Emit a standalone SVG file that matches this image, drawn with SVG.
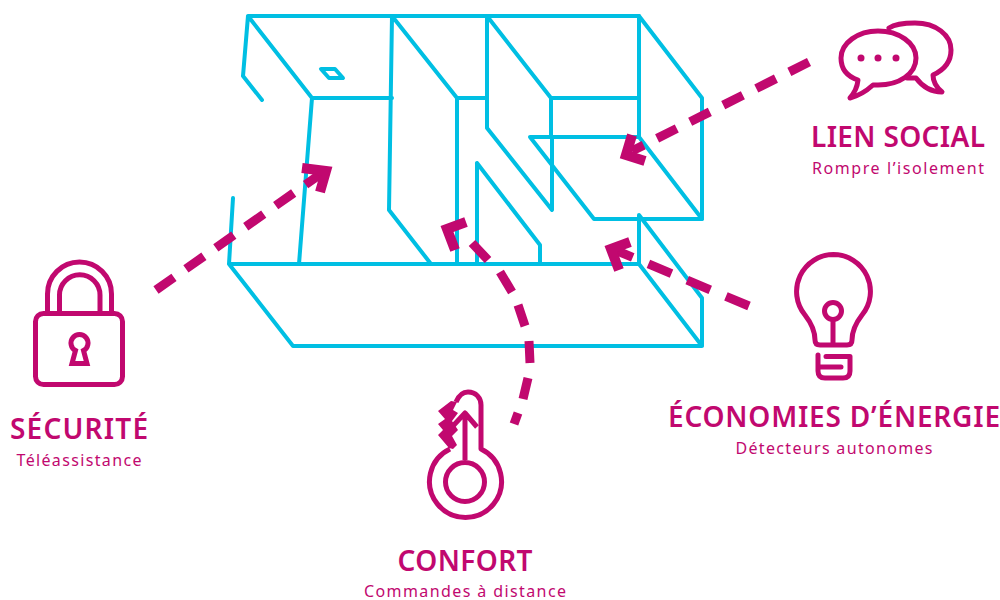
<svg xmlns="http://www.w3.org/2000/svg" width="1000" height="600" viewBox="0 0 1000 600">
<style>
.b{fill:none;stroke:#00bfe3;stroke-width:4;stroke-linecap:round;stroke-linejoin:round}
.d{fill:none;stroke:#c1086f;stroke-width:9}
.h{fill:none;stroke:#c1086f;stroke-width:10;stroke-linejoin:miter}
.i{fill:none;stroke:#c1086f;stroke-width:5;stroke-linecap:round;stroke-linejoin:round}
.t{font-family:"Noto Sans","Open Sans",sans-serif;font-weight:600;font-size:28px;fill:#c1086f;text-anchor:middle}
.s{font-family:"Noto Sans","Open Sans",sans-serif;font-size:16px;fill:#c1086f;text-anchor:middle}
</style>
<g id="building" class="b">
<path d="M248 16H639M248 16L243 76L262 100M248 16L312 98H392M312 98L299 264"/>
<path d="M392 16L389 210L431 264M392 16L457 98V264M457 98H487"/>
<path d="M487 16V128L552 210V137M487 16L551 98V137M551 98H639M639 16V137M639 16L702 98V219"/>
<path d="M530 137H639L702 219H594L530 137"/>
<path d="M477 163V264M477 163L540 245V264"/>
<path d="M229 264H639V215L702 298V346M639 264L702 346H293L229 264L233 198"/>
<path d="M321 69H335L343 78H329Z"/>
</g>
<g id="connectors">
<path class="d" d="M156 290L322 173" stroke-dasharray="22 14.6"/>
<path class="h" d="M302 168L326 171L320 192"/>
<path class="d" d="M809 62L632 151" stroke-dasharray="22 15"/>
<path class="h" d="M632 135L626 155L645 161"/>
<path class="d" d="M749 306L615 250" stroke-dasharray="25 17"/>
<path class="h" d="M630 242L611 249L619 270"/>
<path class="d" d="M514 424L518 413M523 399L528 378M530 363L529 341M525 326L518 305M512 292L500 272M488 260L472 243"/>
<path class="h" d="M466 222L447 229L455 250"/>
</g>
<g id="securite">
<rect class="i" x="35.500" y="313.500" width="87" height="71" rx="8"/>
<path class="i" style="stroke-linecap:butt" d="M47.500 311V294A32 32 0 0 1 111.500 294V311M59.500 311V295A20.250 20.250 0 0 1 100 295V311"/>
<path class="i" style="stroke-linejoin:miter" d="M72 363.500H87L83.500 350.500A8.500 8.500 0 1 0 75.500 350.500Z"/>
<text class="t" x="79" y="439" textLength="138">SÉCURITÉ</text>
<text class="s" x="79" y="466" textLength="125">Téléassistance</text>
</g>
<g id="confort">
<path class="i" style="stroke-linecap:butt" d="M456 402C459 395 464 392 468 392C476 392 481 398 481 405V449A36 36 0 1 1 450 449"/>
<circle class="i" cx="465" cy="482" r="19.500"/>
<path class="i" style="stroke-linecap:butt" d="M465 460V413M452 427L465 413L477 427"/>
<path d="M451 401L438 411L445 419L438 424L443 430L438 435L449 448L453 449L457 445L452 436L458 430L452 421L458 413L453 410L457 402Z" fill="#c1086f"/>
<text class="t" x="465" y="571" textLength="135">CONFORT</text>
<text class="s" x="465" y="597" textLength="202">Commandes à distance</text>
</g>
<g id="energie">
<path class="i" d="M833.500 254.500A37 37 0 0 1 862 315C855 324 852 331 852 340Q852 345 847 345H820Q815 345 815 340C815 331 812 324 805 315A37 37 0 0 1 833.500 254.500Z"/>
<circle class="i" cx="833" cy="311" r="8.500"/>
<path class="i" d="M833 320V344M818 355V371Q818 378 825 378H843Q850 378 850 371V356.500H826M820 367H841"/>
<text class="t" x="834" y="427" textLength="332">ÉCONOMIES D’ÉNERGIE</text>
<text class="s" x="834" y="454" textLength="197">Détecteurs autonomes</text>
</g>
<g id="lien">
<path class="i" d="M858 80C846 76 841 68 841 58C841 43 858 31 878 31C899 31 916 43 916 58C916 74 899 85 878 85H873Q862 95 850 98Q857 90 858 80Z"/>
<path class="i" d="M889 28C895 24 905 23 915 23C936 23 951 35 951 50C951 62 944 70 933 75C933 82 936 87 942 92C930 92 922 86 916 78H907"/>
<circle cx="861" cy="58" r="3.500" fill="#c1086f"/><circle cx="878" cy="58" r="3.500" fill="#c1086f"/><circle cx="896" cy="58" r="3.500" fill="#c1086f"/>
<text class="t" x="898" y="147" textLength="174">LIEN SOCIAL</text>
<text class="s" x="898" y="174" textLength="172">Rompre l’isolement</text>
</g>
</svg>
